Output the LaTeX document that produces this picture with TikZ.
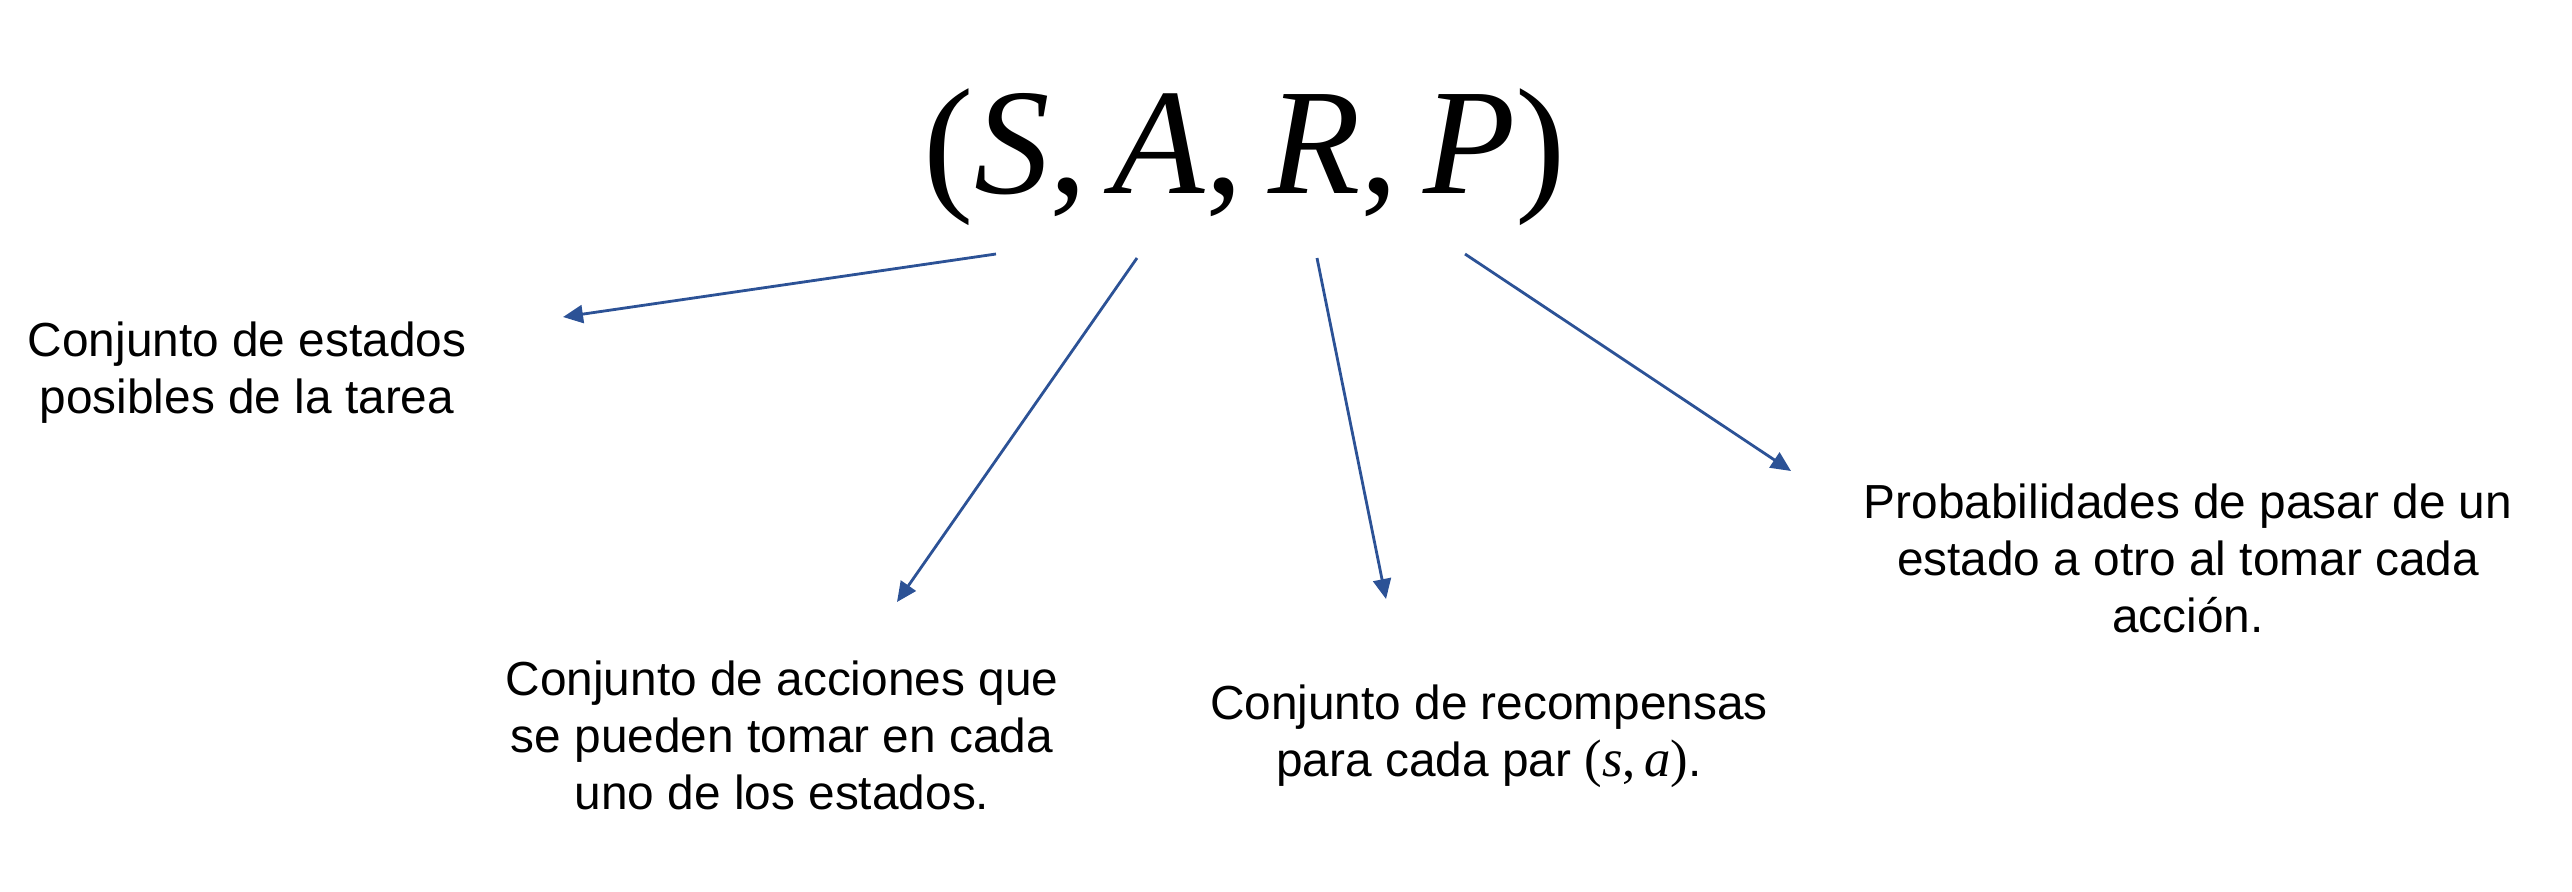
\documentclass[tikz,border=0pt]{standalone}
\usepackage{fontspec}
\setmainfont{Liberation Sans}
\newfontfamily\serifit{Liberation Serif}
\usetikzlibrary{arrows.meta}
\definecolor{arrblue}{RGB}{44,82,150}

\begin{document}
\begin{tikzpicture}[x=1cm,y=1cm]
    \tikzstyle{every node}+=[inner sep=0pt]
    \tikzstyle{lbl}=[align=center, font=\fontsize{13.6}{16.2}\selectfont]
    \tikzstyle{arr}=[arrblue, line width=0.8pt, -{Triangle[length=0.2cm,width=0.18cm]}]
    \useasboundingbox (0,0) rectangle (25.72,-8.92);
    \node (tuple) at (12.45,-1.57) {\fontsize{43}{50}\selectfont\serifit (\textit{S},\,\textit{A},\,\textit{R},\,\textit{P})};
    \node [lbl] (lblS) at (2.47,-3.73) {Conjunto de estados\\posibles de la tarea};
    \node [lbl] (lblA) at (7.82,-7.35) {Conjunto de acciones que\\se pueden tomar en cada\\uno de los estados.};
    \node [lbl] (lblR) at (14.89,-7.36) {Conjunto de recompensas\\para cada par {\fontsize{15}{16.2}\selectfont\serifit(\textit{s},\,\textit{a})}.};
    \node [lbl] (lblP) at (21.88,-5.58) {Probabilidades de pasar de un\\estado a otro al tomar cada\\acci\'on.};
    \coordinate (fromS) at (9.96,-2.54);
    \coordinate (toS) at (5.63,-3.17);
    \coordinate (fromA) at (11.37,-2.58);
    \coordinate (toA) at (8.97,-6.02);
    \coordinate (fromR) at (13.17,-2.58);
    \coordinate (toR) at (13.86,-5.99);
    \coordinate (fromP) at (14.65,-2.54);
    \coordinate (toP) at (17.91,-4.71);
    \draw [arr] (fromS) -- (toS);
    \draw [arr] (fromA) -- (toA);
    \draw [arr] (fromR) -- (toR);
    \draw [arr] (fromP) -- (toP);
\end{tikzpicture}
\end{document}
